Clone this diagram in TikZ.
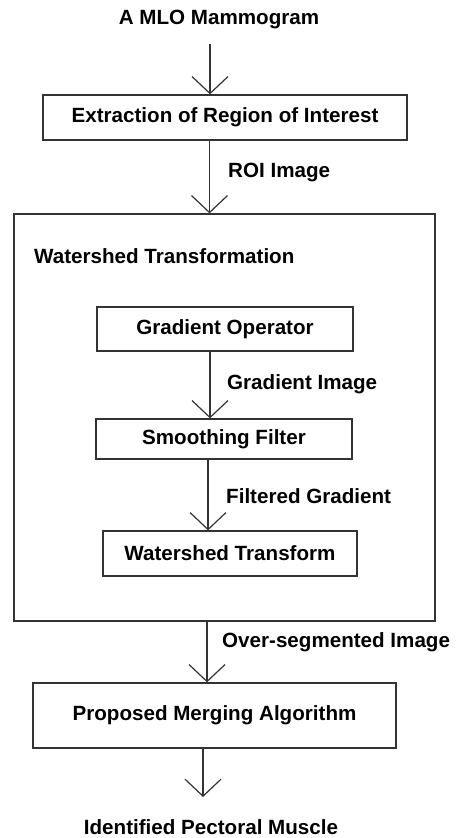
\documentclass[tikz,border=0pt]{standalone}
\usepackage{fontspec}
\setmainfont{Liberation Sans}
\usetikzlibrary{arrows.meta}
\definecolor{linegray}{HTML}{333333}
\begin{document}
\begin{tikzpicture}[x=1pt,y=-1pt,
  every node/.style={font=\fontsize{20.6}{24}\selectfont\bfseries, text=black},
  box/.style={draw=linegray, line width=1.3pt, inner sep=0pt},
  lbl/.style={anchor=west, inner sep=0pt},
  arr/.style={draw=linegray, line width=1.2pt,
    -{Straight Barb[length=17pt,width=36pt,line width=1.2pt]}}]
\useasboundingbox (0,0) rectangle (457,838);

% input and output captions
\node[inner sep=0pt] (mlo) at (219,19) {A MLO Mammogram};
\node[inner sep=0pt] (out) at (211,827) {Identified Pectoral Muscle};

% main stages
\node[box, minimum width=364pt, minimum height=45pt] (roi) at (225,117.5) {Extraction of Region of Interest};
\node[box, minimum width=421pt, minimum height=407pt] (wts) at (224.5,417.5) {};
\node[lbl] (wtsT) at (34,256) {Watershed Transformation};
\node[box, minimum width=256pt, minimum height=44pt] (grad) at (225,329) {Gradient Operator};
\node[box, minimum width=256pt, minimum height=40pt] (smooth) at (224,439) {Smoothing Filter};
\node[box, minimum width=254pt, minimum height=45pt] (wtr) at (230,553.5) {Watershed Transform};
\node[box, minimum width=363pt, minimum height=65pt] (merge) at (214.5,715.5) {Proposed Merging Algorithm};

% connector labels
\node[lbl] (l1) at (228,172) {ROI Image};
\node[lbl] (l2) at (227,384) {Gradient Image};
\node[lbl] (l3) at (226,496) {Filtered Gradient};
\node[lbl] (l4) at (222,642) {Over-segmented Image};

% free ends and vertical lines of the connectors
\coordinate (start) at (210,44);
\coordinate (x2) at (209.5,0);
\coordinate (x3) at (210,0);
\coordinate (x4) at (208,0);
\coordinate (x5) at (207,0);
\coordinate (finish) at (203,797);

% connectors
\draw[arr] (start) -- (start |- roi.north);
\draw[arr] (roi.south -| x2) -- (wts.north -| x2);
\draw[arr] (grad.south -| x3) -- (smooth.north -| x3);
\draw[arr] (smooth.south -| x4) -- (wtr.north -| x4);
\draw[arr] (wts.south -| x5) -- (merge.north -| x5);
\draw[arr] (merge.south -| finish) -- (finish);
\end{tikzpicture}
\end{document}
